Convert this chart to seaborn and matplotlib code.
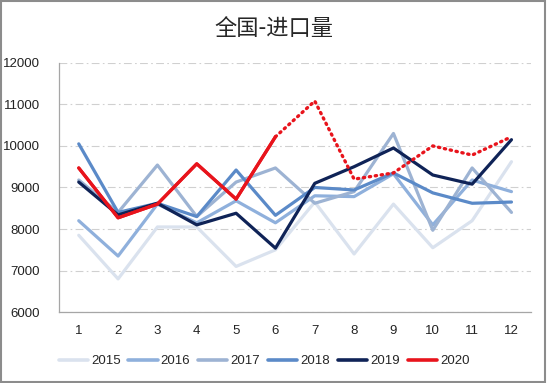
import pandas as pd
import matplotlib
matplotlib.use("Agg")
import matplotlib.pyplot as plt
import seaborn as sns
from matplotlib.patches import Rectangle

months = list(range(1, 13))
y2015 = [7850, 6800, 8050, 8050, 7100, 7500, 8650, 7400, 8600, 7550, 8200, 9620]
y2016 = [8200, 7350, 8600, 8150, 8680, 8150, 8800, 8780, 9330, 8100, 9180, 8900]
y2017 = [9180, 8400, 9540, 8300, 9130, 9470, 8620, 8900, 10300, 7970, 9470, 8400]
y2018 = [10050, 8400, 8620, 8300, 9420, 8330, 9000, 8940, 9350, 8870, 8620, 8650]
y2019 = [9130, 8340, 8620, 8100, 8380, 7540, 9100, 9500, 9950, 9300, 9080, 10150]
y2020_actual = [9470, 8270, 8600, 9570, 8720, 10220]
y2020_forecast = [10220, 11080, 9200, 9350, 10000, 9780, 10220]

years = ["2015", "2016", "2017", "2018", "2019", "2020"]
colors = ["#dae2ee", "#8fb0dc", "#9db3d3", "#5b8ac8", "#0f2357", "#e8141c"]

series = [y2015, y2016, y2017, y2018, y2019, y2020_actual]
rows = []
for yr, vals in zip(years, series):
    for m, v in zip(months, vals):
        rows.append({"month": m, "value": v, "year": yr})
df = pd.DataFrame(rows)
df_fc = pd.DataFrame({"month": months[5:], "value": y2020_forecast})

sns.set_style("white")
plt.rcParams["font.family"] = ["Liberation Sans", "Noto Sans CJK SC", "DejaVu Sans"]

fig = plt.figure(figsize=(5.47, 3.83), dpi=100)
ax = fig.add_axes([0.108, 0.185, 0.863, 0.651])

sns.lineplot(data=df, x="month", y="value", hue="year", palette=dict(zip(years, colors)),
             linewidth=2.3, ax=ax, legend=True)
sns.lineplot(data=df_fc, x="month", y="value", color="#e8141c", linewidth=2.4,
             linestyle=(0, (0.4, 1.4)), dash_capstyle="round", ax=ax, legend=False)
# redraw 2020 actual on top
sns.lineplot(data=df[df["year"] == "2020"], x="month", y="value", color="#e8141c",
             linewidth=2.3, ax=ax, legend=False)

ax.set_xlim(0.5, 12.5)
ax.set_ylim(6000, 12000)
ax.set_xticks(months)
ax.set_yticks(range(6000, 12001, 1000))
ax.tick_params(axis="both", labelsize=9.5, colors="#222222", length=0)
ax.tick_params(axis="x", pad=9)
ax.tick_params(axis="y", pad=14)
ax.set_xlabel("")
ax.set_ylabel("")
ax.grid(axis="y", color="#d0d0d0", linewidth=0.8, linestyle=(0, (7, 3, 1.5, 3)))
ax.set_axisbelow(True)
for s in ["top", "right"]:
    ax.spines[s].set_visible(False)
ax.spines["left"].set_color("#a6a6a6")
ax.spines["bottom"].set_color("#a6a6a6")
ax.spines["left"].set_linewidth(0.9)
ax.spines["bottom"].set_linewidth(0.9)

handles, labels = ax.get_legend_handles_labels()
ax.get_legend().remove()
leg = fig.legend(handles[:6], labels[:6], ncol=6, frameon=False, loc="center",
                 bbox_to_anchor=(0.483, 0.057), fontsize=9.5, handlelength=2.2,
                 columnspacing=0.6, handletextpad=0.25)
for h in leg.get_lines():
    h.set_linewidth(2.6)

fig.text(0.5, 0.925, "全国-进口量", ha="center", va="center", fontsize=16,
         family=["Noto Sans CJK SC", "DejaVu Sans"])

fig.patches.append(Rectangle((0.002, 0.003), 0.995, 0.994, transform=fig.transFigure,
                             fill=False, edgecolor="#8c8c8c", linewidth=1.5))

fig.savefig("out.png", dpi=100)
